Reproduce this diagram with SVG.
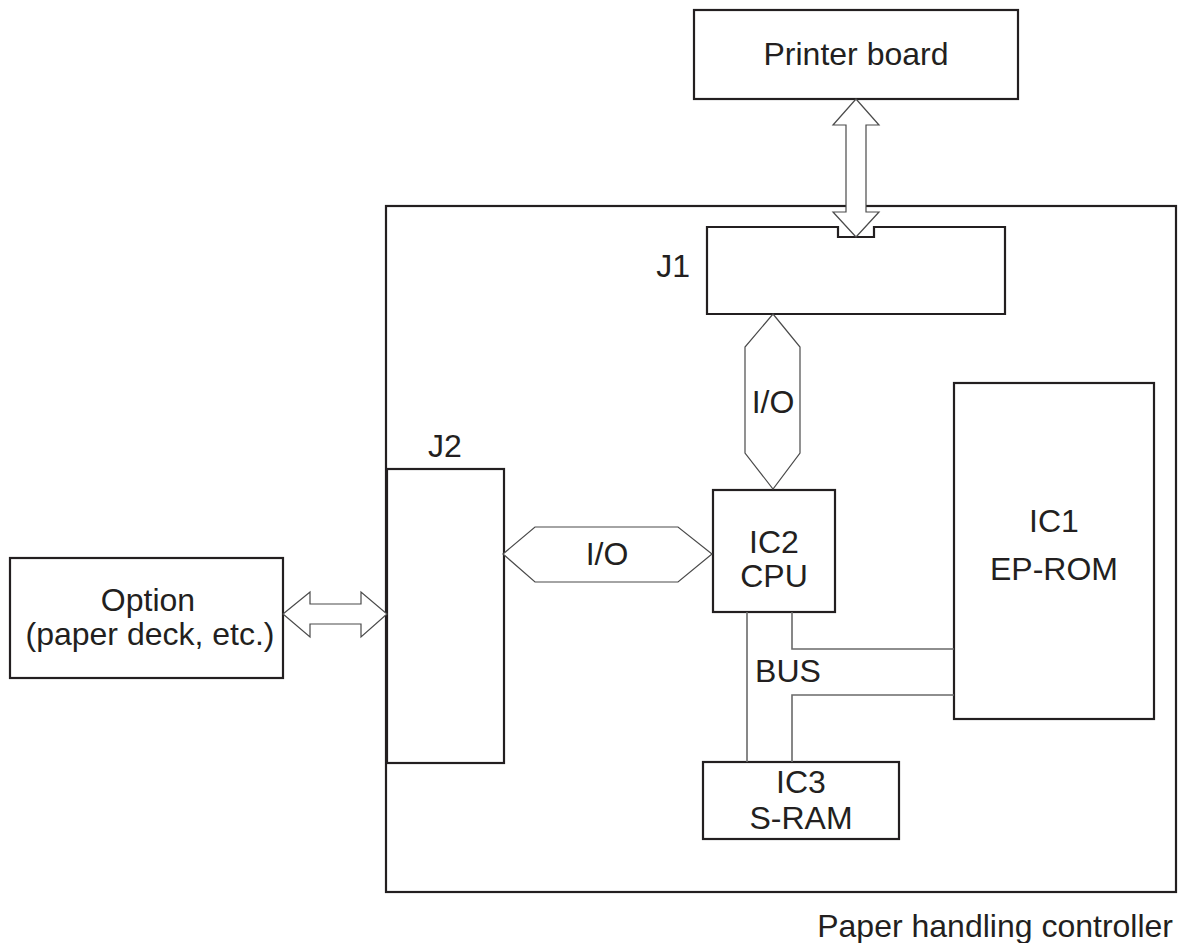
<svg xmlns="http://www.w3.org/2000/svg" width="1189" height="943" viewBox="0 0 1189 943">
<style>
.box{fill:#fff;stroke:#231f20;stroke-width:2.2}
.conn{fill:#fff;stroke:#4a4a4a;stroke-width:1.2}
.wire{fill:none;stroke:#6a6a6a;stroke-width:1.6}
text{font-family:"Liberation Sans",Arial,sans-serif;font-size:32px;fill:#231f20;text-anchor:middle}
</style>
<rect width="1189" height="943" fill="#fff"/>
<g id="controller">
<rect class="box" x="386" y="206" width="790" height="686"/>
<text x="1173" y="937" style="text-anchor:end">Paper handling controller</text>
</g>
<g id="printer-board">
<rect class="box" x="694" y="10" width="324" height="89"/>
<text x="856" y="65">Printer board</text>
</g>
<g id="j1">
<path class="box" d="M707,227 H838 V237 H874 V227 H1005 V314 H707 Z"/>
<text x="690" y="277" style="text-anchor:end">J1</text>
</g>
<g id="j2">
<rect class="box" x="387" y="469" width="117" height="294"/>
<text x="445" y="457">J2</text>
</g>
<g id="option">
<rect class="box" x="10" y="558" width="273" height="120"/>
<text x="148" y="611">Option</text>
<text x="150" y="645">(paper deck, etc.)</text>
</g>
<g id="ic2">
<rect class="box" x="713" y="490" width="122" height="122"/>
<text x="774" y="553">IC2</text>
<text x="774" y="587">CPU</text>
</g>
<g id="ic1">
<rect class="box" x="954" y="383" width="200" height="336"/>
<text x="1054" y="532">IC1</text>
<text x="1054" y="580">EP-ROM</text>
</g>
<g id="ic3">
<rect class="box" x="703" y="762" width="196" height="77"/>
<text x="801" y="793">IC3</text>
<text x="801" y="829">S-RAM</text>
</g>
<g id="connectors">
<polygon class="conn" points="856,99 879,125 866,125 866,212 879,212 856,237 833,212 846,212 846,125 833,125"/>
<polygon class="conn" points="283,614 310,592 310,604 361,604 361,592 387,614 361,637 361,624 310,624 310,637"/>
<polygon class="conn" points="773,314 800,347 800,453 773,489 745,453 745,347"/>
<text x="773" y="413">I/O</text>
<polygon class="conn" points="503,554 535,527 678,527 712,554 678,582 535,582"/>
<text x="607" y="565">I/O</text>
<path class="wire" d="M747,612 V762 M792,612 V649 H954 M954,695 H792 V762"/>
<text x="788" y="682">BUS</text>
</g>
</svg>
